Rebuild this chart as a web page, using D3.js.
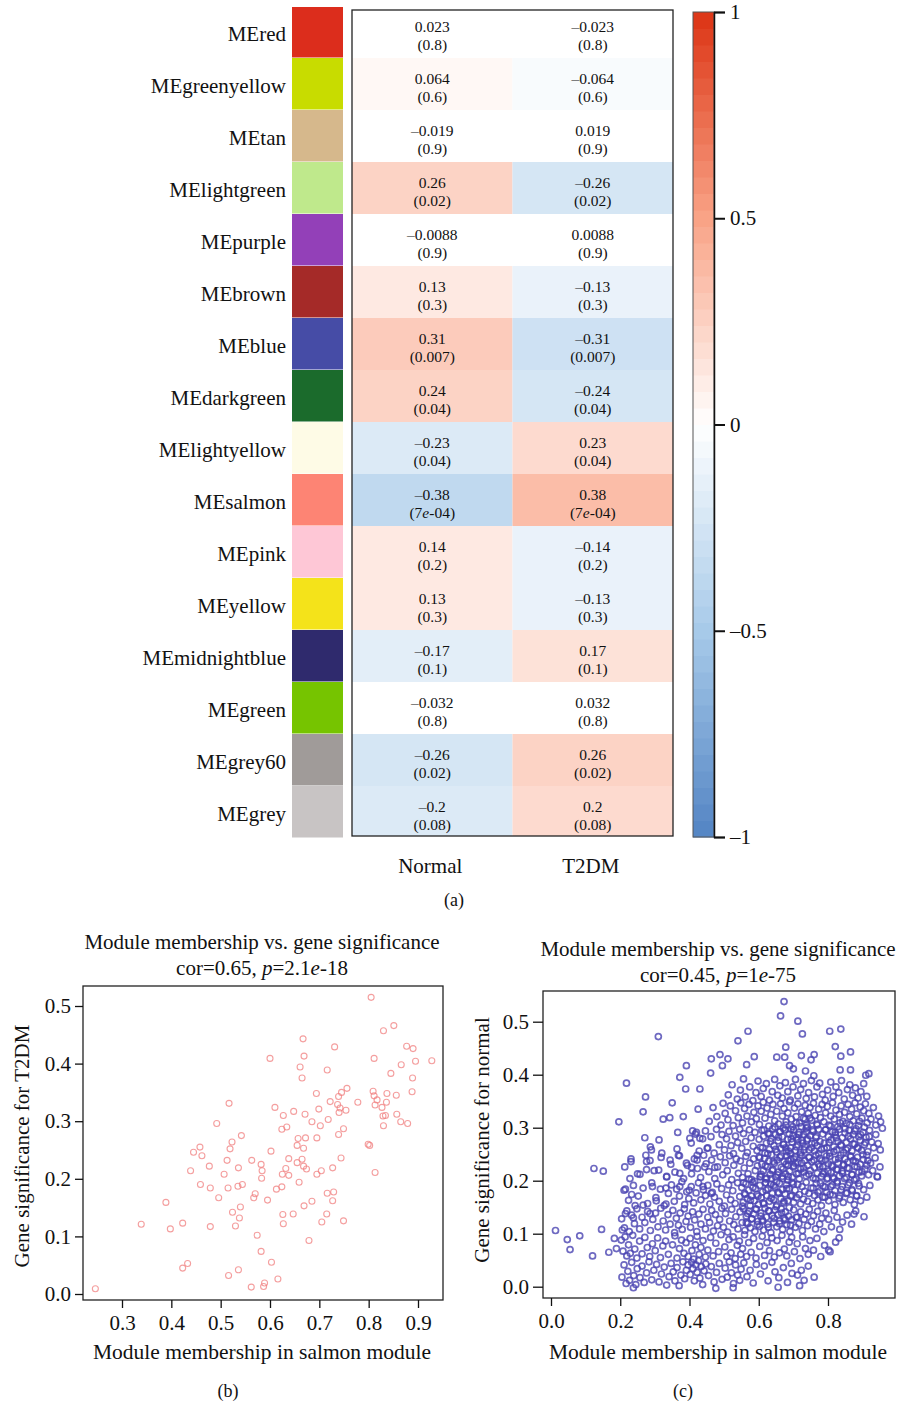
<!DOCTYPE html>
<html>
<head>
<meta charset="utf-8">
<script src="https://cdn.jsdelivr.net/npm/d3@7"></script>
<style>
  body { margin: 0; background: #fff; }
  text { font-family: "Liberation Serif", "DejaVu Serif", serif; fill: #111; }
</style>
</head>
<body>
<div id="vizContainer"></div>
<script>
let w = 899;
let h = 1406;

// ---- (a) module-trait heatmap ----
let modules = ["MEred", "MEgreenyellow", "MEtan", "MElightgreen", "MEpurple", "MEbrown", "MEblue", "MEdarkgreen",
  "MElightyellow", "MEsalmon", "MEpink", "MEyellow", "MEmidnightblue", "MEgreen", "MEgrey60", "MEgrey"];
let moduleColors = ["#dc2d1c", "#c8dc00", "#d6b88c", "#bfe98c", "#9340b8", "#a52a28", "#464ca6", "#1b6b2c",
  "#fefbe6", "#fd8474", "#fec7d6", "#f4e31a", "#2f2a6d", "#76c400", "#a09b99", "#c8c4c4"];
let traits = ["Normal", "T2DM"];
let corNormal = [0.023, 0.064, -0.019, 0.26, -0.0088, 0.13, 0.31, 0.24, -0.23, -0.38, 0.14, 0.13, -0.17, -0.032, -0.26, -0.2];
let corT2DM = [-0.023, -0.064, 0.019, -0.26, 0.0088, -0.13, -0.31, -0.24, 0.23, 0.38, -0.14, -0.13, 0.17, 0.032, 0.26, 0.2];
let corNormalLabels = ["0.023", "0.064", "-0.019", "0.26", "-0.0088", "0.13", "0.31", "0.24", "-0.23", "-0.38", "0.14", "0.13", "-0.17", "-0.032", "-0.26", "-0.2"];
let corT2DMLabels = ["-0.023", "-0.064", "0.019", "-0.26", "0.0088", "-0.13", "-0.31", "-0.24", "0.23", "0.38", "-0.14", "-0.13", "0.17", "0.032", "0.26", "0.2"];
let pLabels = ["0.8", "0.6", "0.9", "0.02", "0.9", "0.3", "0.007", "0.04", "0.04", "7e-04", "0.2", "0.3", "0.1", "0.8", "0.02", "0.08"];
let barTicks = [-1, -0.5, 0, 0.5, 1];

// ---- (b) salmon module vs T2DM, pairs of (MM, GS) x1000 ----
let salmonT2DM = [246,9, 339,121, 389,159, 398,113, 423,123, 423,45, 433,53, 439,214, 445,246, 458,255, 462,240, 459,190,
  477,222, 479,184, 479,117, 492,296, 496,167, 507,208, 517,331, 519,252, 523,264, 513,232, 515,184, 516,32, 524,142,
  530,118, 536,219, 535,187, 536,42, 538,132, 540,151, 542,275, 544,190, 563,232, 562,12, 567,167, 570,174, 574,102,
  582,225, 584,214, 583,201, 582,74, 589,19, 587,13, 595,163, 600,409, 602,248, 603,55, 610,324, 613,182, 616,26,
  624,286, 627,310, 625,208, 624,186, 626,138, 627,122, 632,218, 634,290, 638,235, 638,206, 648,317, 647,139, 655,258,
  657,270, 655,228, 659,194, 661,394, 665,234, 665,375, 667,443, 668,253, 668,222, 669,413, 669,153, 671,312, 672,271,
  674,217, 679,93, 685,299, 685,161, 694,348, 695,271, 695,208, 699,321, 702,292, 704,214, 705,125, 716,389, 718,303,
  716,175, 715,139, 722,334, 727,219, 727,162, 729,177, 731,429, 737,329, 739,343, 739,277, 740,315, 742,323, 745,350,
  744,236, 749,287, 749,127, 754,319, 756,357, 778,333, 799,260, 802,258, 805,515, 809,352, 811,409, 811,344, 813,328,
  813,211, 817,337, 827,324, 829,309, 830,292, 830,457, 834,310, 836,333, 837,348, 845,383, 851,466, 856,345, 857,312,
  865,299, 866,398, 877,430, 879,296, 888,351, 889,375, 890,426, 895,404, 928,405];

// ---- (c) salmon module vs normal, pairs x1000, read band by band ----
let normalSparse = [673,538, 663,511, 713,501, 726,477, 569,482, 540,464, 310,472, 805,482, 837,486, 821,453, 678,452,
  865,443, 837,435, 587,434, 565,419, 652,433, 675,433, 723,436, 751,428, 760,438, 488,438, 463,430, 511,430, 495,417,
  391,417, 461,403, 372,395, 689,417, 700,411, 735,407, 759,398, 835,409, 865,409, 909,399, 918,402, 218,384, 389,373,
  430,373, 273,358, 350,347, 266,330, 425,335, 324,316, 343,319, 382,321, 196,311, 366,291, 409,294, 420,291, 271,281,
  312,277, 401,280, 430,280, 287,264, 364,260, 451,261, 290,258, 274,248, 320,252, 368,248, 422,248, 957,299, 231,236,
  286,238, 344,239, 391,233, 422,239, 124,223, 151,218, 311,220, 276,221, 228,204, 250,213, 334,208, 372,214, 406,225,
  444,226, 473,225, 942,208, 215,184, 233,174, 293,189, 332,186, 372,189, 399,182, 439,189, 463,176, 304,162, 332,156,
  243,153, 266,154, 286,138, 238,130, 215,138, 904,132, 875,137, 13,106, 47,89, 83,96, 55,70, 146,108, 120,58, 167,65,
  183,91, 206,107, 189,72, 832,92, 802,69, 760,18, 723,31, 718,2, 696,25, 656,-1, 476,-3, 238,-2, 526,-2];
let normalBand35 = [512,362, 523,381, 538,354, 547,371, 556,392, 561,358, 574,377, 583,351, 592,366, 598,388,
  607,359, 613,374, 622,383, 631,352, 639,368, 646,391, 655,361, 661,379, 668,356, 677,385, 684,368, 691,352, 699,377,
  706,391, 713,360, 721,372, 729,383, 737,355, 744,366, 752,389, 761,358, 768,377, 776,384, 784,363, 792,352, 799,371,
  808,386, 815,359, 823,377, 831,366, 839,389, 847,354, 856,372, 863,381, 871,361, 879,375, 887,356, 895,368, 903,383, 912,359];
let normalBand30 = [457,312, 468,338, 479,321, 491,305, 497,346, 503,327, 511,315, 518,341, 526,304, 533,332, 541,319,
  548,347, 553,309, 559,336, 566,322, 572,344, 579,311, 586,329, 593,317, 598,341, 602,306, 607,331, 613,348, 618,318,
  624,337, 629,303, 635,325, 641,344, 646,313, 652,331, 657,307, 663,345, 668,322, 673,336, 679,311, 684,328, 689,349,
  694,316, 698,302, 703,337, 708,321, 713,345, 718,309, 724,330, 729,318, 734,342, 738,305, 743,327, 748,338, 753,314,
  758,346, 763,323, 768,307, 773,335, 778,319, 783,344, 788,311, 793,328, 798,340, 803,305, 808,322, 813,347, 818,316,
  823,333, 828,302, 833,325, 838,341, 843,312, 848,329, 853,308, 858,344, 863,321, 868,335, 873,313, 878,347, 883,326,
  888,304, 893,339, 898,318, 903,332, 908,345, 913,309, 918,327, 924,316, 931,338, 938,305, 946,322, 952,311];
let normalBand25 = [405,271, 417,288, 428,256, 438,279, 446,294, 453,262, 462,283, 471,252, 478,297, 486,268, 494,287,
  501,258, 507,279, 514,293, 520,266, 527,251, 533,284, 539,272, 545,297, 551,261, 556,289, 562,274, 567,253, 573,296,
  578,281, 584,265, 589,291, 595,257, 601,278, 605,263, 609,295, 614,284, 618,252, 622,271, 627,289, 631,259, 636,280,
  640,298, 644,266, 648,287, 652,254, 656,275, 660,292, 664,261, 668,283, 672,269, 676,296, 680,255, 684,278, 688,288,
  692,262, 696,273, 701,296, 705,257, 709,282, 713,268, 717,291, 721,253, 725,276, 729,287, 733,264, 737,299, 741,279,
  745,258, 749,285, 753,270, 757,293, 761,256, 765,281, 769,266, 773,297, 777,274, 781,259, 785,288, 789,271, 793,296,
  797,262, 801,283, 805,252, 809,277, 813,292, 817,264, 821,286, 825,258, 829,274, 833,297, 837,268, 841,281, 845,253,
  849,290, 853,272, 857,261, 861,295, 865,279, 869,256, 873,287, 877,269, 881,298, 885,263, 889,283, 893,276, 897,257,
  901,291, 905,268, 910,282, 915,255, 920,295, 926,273, 932,262, 938,287, 945,270, 951,258];
let normalBand20 = [213,226, 231,241, 257,212, 276,236, 298,219, 318,244, 334,207, 346,231, 358,216, 371,247, 383,204,
  394,229, 406,213, 414,241, 423,223, 432,206, 441,248, 448,232, 456,217, 464,239, 473,204, 481,226, 489,245, 496,211,
  503,234, 509,219, 516,247, 522,202, 528,229, 535,241, 541,214, 547,237, 553,206, 558,224, 563,246, 569,213, 574,233,
  579,202, 585,241, 590,219, 596,228, 601,245, 605,208, 609,231, 613,219, 617,242, 621,203, 625,226, 629,237, 633,212,
  637,249, 641,221, 645,233, 649,207, 653,239, 657,216, 661,244, 665,225, 669,204, 673,236, 677,213, 681,247, 685,229,
  689,218, 693,241, 697,206, 701,228, 705,245, 709,213, 713,234, 717,203, 721,222, 725,247, 729,216, 733,238, 737,209,
  741,229, 745,244, 749,219, 753,236, 757,205, 761,225, 765,248, 769,214, 773,231, 777,242, 781,208, 785,226, 789,217,
  793,239, 797,203, 801,232, 805,246, 809,215, 813,227, 817,204, 821,240, 825,221, 829,234, 833,209, 837,248, 841,218,
  845,229, 849,241, 853,206, 857,235, 861,223, 865,247, 869,212, 873,238, 877,227, 881,203, 885,244, 889,216, 893,231,
  897,209, 902,240, 907,222, 912,248, 917,211, 923,233, 929,219, 936,243, 943,207, 950,226];
let normalBand15 = [211,182, 224,163, 238,191, 252,171, 266,186, 279,157, 291,196, 303,168, 316,184, 327,153, 339,176,
  348,192, 356,161, 363,184, 371,171, 378,198, 386,155, 392,179, 398,166, 405,189, 412,158, 419,177, 426,196, 433,164,
  440,183, 446,172, 453,191, 459,156, 466,178, 472,169, 479,194, 486,161, 493,185, 501,152, 507,173, 513,192, 519,164,
  525,181, 532,157, 539,196, 545,170, 551,187, 555,159, 559,176, 563,194, 567,166, 571,182, 575,153, 579,171, 583,197,
  587,162, 591,185, 595,174, 599,155, 603,191, 607,168, 611,179, 615,156, 619,196, 623,172, 627,185, 631,161, 635,193,
  639,176, 643,164, 647,188, 652,154, 656,178, 660,195, 664,166, 668,183, 672,158, 676,175, 680,192, 684,162, 688,185,
  692,171, 696,197, 701,159, 705,182, 709,168, 713,193, 717,174, 721,156, 725,189, 729,165, 733,180, 737,197, 741,161,
  745,176, 751,186, 756,157, 761,172, 766,195, 771,164, 776,181, 781,153, 786,190, 791,169, 796,178, 802,162, 808,189,
  814,173, 820,155, 826,196, 832,167, 838,183, 844,159, 852,176, 858,192, 864,164, 870,181, 876,155, 882,171, 888,195,
  894,162, 903,183, 912,169, 921,191];
let normalBand10 = [204,128, 212,111, 219,143, 226,104, 233,135, 241,119, 248,147, 256,109, 263,131, 271,121, 279,142,
  287,106, 294,127, 302,139, 309,113, 317,148, 324,124, 331,107, 338,136, 344,118, 352,144, 357,102, 362,129, 368,116,
  373,139, 379,108, 385,147, 390,123, 396,133, 403,112, 409,141, 415,126, 421,104, 427,137, 433,118, 439,146, 446,109,
  453,131, 458,121, 464,144, 469,105, 475,136, 481,115, 487,127, 493,148, 498,112, 504,138, 510,103, 516,124, 522,146,
  528,117, 534,132, 540,109, 546,141, 552,121, 556,147, 560,106, 564,133, 568,119, 572,142, 576,111, 580,128, 585,137,
  589,104, 593,146, 597,123, 602,114, 606,139, 610,126, 614,107, 618,148, 622,131, 626,118, 630,143, 635,102, 639,134,
  643,121, 647,145, 652,113, 656,136, 661,124, 665,147, 669,108, 673,129, 677,141, 681,117, 686,133, 690,104, 695,126,
  701,145, 706,112, 711,131, 716,119, 721,141, 726,106, 731,127, 736,137, 741,115, 746,146, 752,123, 758,134, 764,109,
  770,142, 776,118, 782,129, 788,104, 794,139, 802,127, 810,113, 818,144, 826,131, 834,108, 842,122, 855,135, 868,118, 880,143];
let normalBand05 = [203,88, 208,67, 214,94, 219,58, 224,79, 229,63, 236,97, 242,71, 248,54, 256,86, 263,62, 271,93,
  278,74, 285,57, 293,81, 301,68, 308,92, 316,55, 323,77, 331,86, 339,61, 351,79, 358,96, 364,54, 371,72, 377,88,
  384,63, 390,83, 396,57, 402,91, 407,68, 412,52, 417,79, 422,95, 428,61, 433,74, 439,87, 446,56, 453,69, 461,93,
  468,58, 476,82, 484,66, 491,98, 502,75, 508,57, 514,89, 520,64, 526,94, 532,53, 538,78, 544,86, 548,61, 553,72,
  559,98, 565,57, 571,83, 578,65, 585,91, 592,54, 603,76, 610,95, 617,59, 624,83, 631,68, 638,92, 645,56, 653,87,
  660,64, 667,97, 674,71, 681,58, 688,84, 695,93, 703,66, 711,81, 719,53, 727,94, 735,72, 743,61, 748,87, 758,69,
  768,91, 779,57, 790,78, 806,66, 822,84];
let normalBand00 = [205,18, 211,41, 217,6, 222,29, 227,12, 233,46, 239,21, 245,4, 249,34, 257,17, 263,39, 269,8,
  276,26, 283,47, 291,13, 297,31, 305,42, 312,9, 319,24, 327,37, 334,3, 341,19, 347,44, 353,28, 358,11, 364,36, 370,2,
  375,22, 381,47, 386,15, 391,31, 396,41, 402,23, 406,46, 410,34, 414,11, 418,41, 422,27, 426,49, 430,16, 434,38,
  438,4, 442,30, 447,43, 455,21, 463,38, 471,9, 478,27, 486,44, 494,14, 503,35, 509,18, 515,47, 521,26, 527,6, 533,41,
  539,22, 545,12, 549,33, 557,45, 566,19, 575,31, 584,7, 593,42, 605,24, 616,39, 627,11, 638,46, 647,28, 658,17,
  671,36, 683,8, 694,44, 712,22, 731,12, 743,39];
// the two dark blobs of the main mass
let normalCore = [603,243, 611,262, 619,228, 626,251, 634,274, 642,236, 649,259, 657,282, 664,247, 671,268, 679,231,
  686,256, 694,279, 701,241, 709,264, 716,287, 724,233, 731,258, 739,276, 746,244, 607,212, 615,296, 623,205, 631,288,
  639,219, 647,301, 655,211, 662,293, 670,222, 678,305, 685,208, 693,297, 700,226, 708,309, 715,214, 723,302, 730,224,
  738,292, 745,212, 782,238, 789,261, 796,247, 803,272, 810,229, 817,255, 824,281, 831,242, 838,266, 845,231, 852,258,
  859,284, 866,245, 873,269, 880,236, 887,261, 894,287, 901,249, 908,272, 915,238, 786,213, 793,296, 800,218, 807,303,
  814,207, 821,291, 828,221, 835,309, 842,214, 849,298, 856,224, 863,306, 870,211, 877,294, 884,226, 891,312, 898,217,
  905,301, 912,229, 919,283, 553,152, 561,174, 568,138, 576,163, 583,187, 591,147, 598,171, 606,133, 613,158, 621,182,
  628,143, 636,167, 643,191, 651,151, 658,176, 666,139, 673,161, 681,185, 688,149, 696,172, 556,196, 564,121, 572,203,
  580,128, 588,199, 596,117, 604,207, 612,124, 620,196, 628,112, 636,204, 644,129, 652,198, 660,119, 668,208, 676,126,
  684,201, 692,116, 700,194, 708,131, 757,186, 764,203, 771,178, 778,195, 785,169, 792,188, 799,205, 806,174, 813,192,
  820,181, 827,199, 834,171, 841,189, 848,204, 855,177, 862,196, 869,183, 876,201, 883,172, 890,190, 752,262, 759,239,
  766,284, 773,251, 776,227, 769,305, 762,271, 755,296, 748,318, 741,301, 734,316, 727,271, 720,249, 713,277, 706,233,
  699,285, 692,251, 685,238, 678,262, 671,299];

function toPairs(arr) {
  return d3.range(0, arr.length, 2).map(i => [arr[i] / 1000, arr[i + 1] / 1000]);
}
let dash = s => s.replace(/^-/, "\u2013");

let viz = d3.select('#vizContainer').append('svg')
  .attr('width', w)
  .attr('height', h)
  .style('background-color', 'white');

// ===== heatmap =====
let rowScale = d3.scaleBand().domain(modules).range([6, 838]);
let colScale = d3.scaleBand().domain(traits).range([352, 673]);
let corColor = d3.scaleLinear()
  .domain([-1, -0.5, 0, 0.5, 1])
  .range(["#5384c4", "#a7cae9", "#ffffff", "#f9a386", "#dc3414"]);

let cells = [];
modules.forEach(function(m, i) {
  cells.push({ m: m, t: "Normal", v: corNormal[i], lab: corNormalLabels[i], p: pLabels[i] });
  cells.push({ m: m, t: "T2DM", v: corT2DM[i], lab: corT2DMLabels[i], p: pLabels[i] });
});

let heat = viz.append('g').attr('class', 'heat');

heat.selectAll('.swatch').data(modules).enter().append('rect')
  .attr('class', 'swatch')
  .attr('x', 292)
  .attr('y', d => Math.max(7, rowScale(d)))
  .attr('width', 51)
  .attr('height', d => rowScale(d) + rowScale.bandwidth() - Math.max(7, rowScale(d)) - 0.5)
  .attr('fill', (d, i) => moduleColors[i]);

heat.selectAll('.rowlab').data(modules).enter().append('text')
  .attr('class', 'rowlab')
  .attr('x', 286)
  .attr('y', d => rowScale(d) + rowScale.bandwidth() / 2 + 9)
  .attr('text-anchor', 'end')
  .style('font-size', '21px')
  .text(d => d);

// 50 colour steps, as in the colour bar
heat.selectAll('.cell').data(cells).enter().append('rect')
  .attr('class', 'cell')
  .attr('x', d => colScale(d.t))
  .attr('y', d => Math.max(10, rowScale(d.m)))
  .attr('width', colScale.bandwidth())
  .attr('height', d => Math.min(836, rowScale(d.m) + rowScale.bandwidth()) - Math.max(10, rowScale(d.m)))
  .attr('fill', d => corColor(Math.trunc(d.v * 25) / 25));

heat.selectAll('.val').data(cells).enter().append('text')
  .attr('class', 'val')
  .attr('x', d => colScale(d.t) + colScale.bandwidth() / 2)
  .attr('y', d => rowScale(d.m) + rowScale.bandwidth() / 2 + 0)
  .attr('text-anchor', 'middle')
  .style('font-size', '15.5px')
  .text(d => dash(d.lab));

let pText = heat.selectAll('.pval').data(cells).enter().append('text')
  .attr('class', 'pval')
  .attr('x', d => colScale(d.t) + colScale.bandwidth() / 2)
  .attr('y', d => rowScale(d.m) + rowScale.bandwidth() / 2 + 18)
  .attr('text-anchor', 'middle')
  .style('font-size', '15.5px');
pText.each(function(d) {
  let t = d3.select(this);
  let parts = ("(" + d.p + ")").split("e");
  t.append('tspan').text(parts[0]);
  if (parts.length > 1) {
    t.append('tspan').style('font-style', 'italic').text("e");
    t.append('tspan').text(parts[1]);
  }
});

heat.append('rect')
  .attr('x', 352).attr('y', 10)
  .attr('width', 321).attr('height', 826)
  .attr('fill', 'none')
  .attr('stroke', '#222')
  .attr('stroke-width', 1.3);

heat.selectAll('.collab').data(traits).enter().append('text')
  .attr('class', 'collab')
  .attr('x', d => colScale(d) + colScale.bandwidth() / 2 - 2)
  .attr('y', 873)
  .attr('text-anchor', 'middle')
  .style('font-size', '21px')
  .text(d => d);

// colour bar
let barScale = d3.scaleLinear().domain([-1, 1]).range([837, 12]);
let barSteps = d3.range(-1, 1, 0.04);
heat.selectAll('.barstep').data(barSteps).enter().append('rect')
  .attr('class', 'barstep')
  .attr('x', 693)
  .attr('y', d => barScale(d + 0.04))
  .attr('width', 21)
  .attr('height', d => barScale(d) - barScale(d + 0.04) + 0.5)
  .attr('fill', d => corColor(d + 0.02));
heat.append('rect')
  .attr('x', 693).attr('y', 12)
  .attr('width', 21).attr('height', 825)
  .attr('fill', 'none').attr('stroke', '#555').attr('stroke-width', 1);

let barAxis = heat.append('g')
  .attr('transform', 'translate(714,0)')
  .call(d3.axisRight(barScale).tickValues(barTicks).tickSize(11).tickPadding(5)
    .tickFormat(d => dash(String(d))));
barAxis.select('.domain').attr('stroke', '#111').attr('stroke-width', 1.5);
barAxis.selectAll('.tick line').attr('stroke', '#111').attr('stroke-width', 2);
barAxis.selectAll('text').style('font-size', '21px').style('font-family', '"Liberation Serif", serif').attr('fill', '#111');

viz.append('text').attr('x', 454).attr('y', 906).attr('text-anchor', 'middle')
  .style('font-size', '18px').text('(a)');

// ===== scatter panels =====
function scatter(opt) {
  let g = viz.append('g');
  let xS = d3.scaleLinear().domain(opt.xDom).range(opt.xRange);
  let yS = d3.scaleLinear().domain(opt.yDom).range(opt.yRange);
  let pts = opt.data;

  g.selectAll('.pt').data(pts).enter().append('circle')
    .attr('class', 'pt')
    .attr('cx', d => xS(d[0]))
    .attr('cy', d => yS(d[1]))
    .attr('r', opt.r)
    .attr('fill', 'none')
    .attr('stroke', opt.color)
    .attr('stroke-opacity', opt.alpha)
    .attr('stroke-width', opt.sw);

  g.append('rect')
    .attr('x', opt.box[0]).attr('y', opt.box[1])
    .attr('width', opt.box[2] - opt.box[0]).attr('height', opt.box[3] - opt.box[1])
    .attr('fill', 'none').attr('stroke', '#222').attr('stroke-width', 1.3);

  let xa = g.append('g').attr('transform', 'translate(0,' + opt.box[3] + ')')
    .call(d3.axisBottom(xS).tickValues(opt.xTicks).tickSize(8).tickPadding(7).tickFormat(d3.format('.1f')));
  let ya = g.append('g').attr('transform', 'translate(' + opt.box[0] + ',0)')
    .call(d3.axisLeft(yS).tickValues(opt.yTicks).tickSize(opt.yTickLen).tickPadding(4).tickFormat(d3.format('.1f')));
  [xa, ya].forEach(function(a) {
    a.select('.domain').remove();
    a.selectAll('.tick line').attr('stroke', '#111').attr('stroke-width', 1.3);
    a.selectAll('text').style('font-size', '21px').style('font-family', '"Liberation Serif", serif').attr('fill', '#111');
  });

  let title = g.append('text').attr('x', opt.cx).attr('y', opt.titleY)
    .attr('text-anchor', 'middle').style('font-size', '21px');
  title.text('Module membership vs. gene significance');
  let sub = g.append('text').attr('x', opt.cx).attr('y', opt.titleY + 26)
    .attr('text-anchor', 'middle').style('font-size', '21px');
  sub.append('tspan').text('cor=' + opt.cor + ', ');
  sub.append('tspan').style('font-style', 'italic').text('p');
  let pp = opt.p.split('e');
  sub.append('tspan').text('=' + pp[0]);
  sub.append('tspan').style('font-style', 'italic').text('e');
  sub.append('tspan').text(pp[1]);

  g.append('text').attr('x', opt.cx).attr('y', 1359)
    .attr('text-anchor', 'middle').style('font-size', '21.5px')
    .text('Module membership in salmon module');
  g.append('text')
    .attr('transform', 'translate(' + opt.ylabX + ',' + opt.ylabY + ') rotate(-90)')
    .attr('text-anchor', 'middle').style('font-size', '21px')
    .text(opt.ylab);
  g.append('text').attr('x', opt.tagX).attr('y', 1397)
    .attr('text-anchor', 'middle').style('font-size', '18px').text(opt.tag);
}

scatter({
  data: toPairs(salmonT2DM),
  xDom: [0.3, 0.9], xRange: [122, 418],
  yDom: [0, 0.5], yRange: [1294, 1006],
  box: [83, 986, 443, 1300],
  xTicks: [0.3, 0.4, 0.5, 0.6, 0.7, 0.8, 0.9],
  yTicks: [0, 0.1, 0.2, 0.3, 0.4, 0.5],
  yTickLen: 8,
  r: 3, color: '#f07f7f', alpha: 0.75, sw: 1.1,
  cx: 262, titleY: 949, cor: '0.65', p: '2.1e-18',
  ylab: 'Gene significance for T2DM', ylabX: 29, ylabY: 1146,
  tag: '(b)', tagX: 228
});

let normalPts = [normalSparse, normalBand35, normalBand30, normalBand25, normalBand20,
  normalBand15, normalBand10, normalBand05, normalBand00, normalCore].map(toPairs).flat();

scatter({
  data: normalPts,
  xDom: [0, 0.8], xRange: [551, 828],
  yDom: [0, 0.5], yRange: [1286.7, 1021.7],
  box: [543, 991, 895, 1298],
  xTicks: [0, 0.2, 0.4, 0.6, 0.8],
  yTicks: [0, 0.1, 0.2, 0.3, 0.4, 0.5],
  yTickLen: 10,
  r: 3, color: '#4a44b2', alpha: 0.8, sw: 1.7,
  cx: 718, titleY: 956, cor: '0.45', p: '1e-75',
  ylab: 'Gene significance for normal', ylabX: 489, ylabY: 1140,
  tag: '(c)', tagX: 683
});
</script>
</body>
</html>
